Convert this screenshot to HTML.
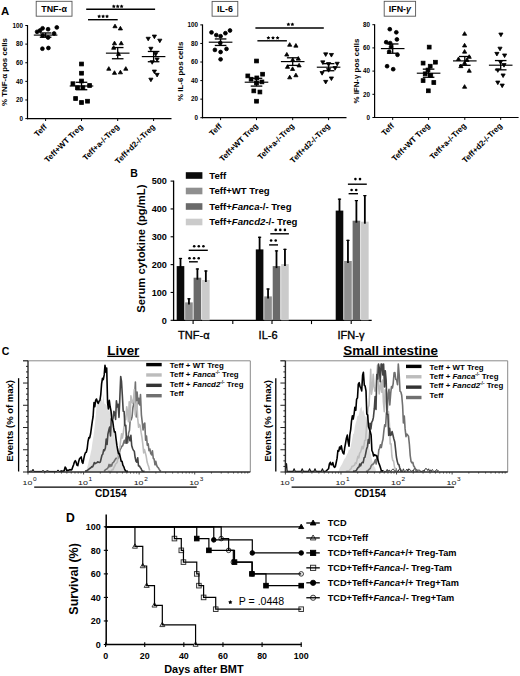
<!DOCTYPE html>
<html><head><meta charset="utf-8"><style>
html,body{margin:0;padding:0;background:#fff;width:520px;height:676px;overflow:hidden}
svg{display:block;font-family:"Liberation Sans", sans-serif}
</style></head><body>
<svg width="520" height="676" viewBox="0 0 520 676">
<rect width="520" height="676" fill="#fff"/>
<text x="0.90" y="14.70" font-size="11.4" font-weight="bold" text-anchor="start" fill="#000" >A</text>
<line x1="27.50" y1="25.00" x2="27.50" y2="119.20" stroke="#000" stroke-width="1.2" />
<line x1="26.90" y1="118.60" x2="171.50" y2="118.60" stroke="#000" stroke-width="1.2" />
<line x1="25.30" y1="118.60" x2="27.50" y2="118.60" stroke="#000" stroke-width="1.0" />
<text x="22.90" y="120.80" font-size="6.3" font-weight="bold" text-anchor="end" fill="#000" >0</text>
<line x1="25.30" y1="99.98" x2="27.50" y2="99.98" stroke="#000" stroke-width="1.0" />
<text x="22.90" y="102.18" font-size="6.3" font-weight="bold" text-anchor="end" fill="#000" >20</text>
<line x1="25.30" y1="81.36" x2="27.50" y2="81.36" stroke="#000" stroke-width="1.0" />
<text x="22.90" y="83.56" font-size="6.3" font-weight="bold" text-anchor="end" fill="#000" >40</text>
<line x1="25.30" y1="62.74" x2="27.50" y2="62.74" stroke="#000" stroke-width="1.0" />
<text x="22.90" y="64.94" font-size="6.3" font-weight="bold" text-anchor="end" fill="#000" >60</text>
<line x1="25.30" y1="44.12" x2="27.50" y2="44.12" stroke="#000" stroke-width="1.0" />
<text x="22.90" y="46.32" font-size="6.3" font-weight="bold" text-anchor="end" fill="#000" >80</text>
<line x1="25.30" y1="25.50" x2="27.50" y2="25.50" stroke="#000" stroke-width="1.0" />
<text x="22.90" y="27.70" font-size="6.3" font-weight="bold" text-anchor="end" fill="#000" >100</text>
<text x="6.90" y="72.05" font-size="7.9" font-weight="bold" text-anchor="middle" fill="#000" transform="rotate(-90 6.9 72.04999999999998)" >% TNF-α pos cells</text>
<line x1="45.60" y1="118.60" x2="45.60" y2="121.00" stroke="#000" stroke-width="1.0" />
<text x="47.50" y="127.40" font-size="8.0" font-weight="bold" text-anchor="end" fill="#000" transform="rotate(-45 47.5 127.39999999999999)" >Teff</text>
<line x1="81.50" y1="118.60" x2="81.50" y2="121.00" stroke="#000" stroke-width="1.0" />
<text x="83.40" y="127.40" font-size="8.0" font-weight="bold" text-anchor="end" fill="#000" transform="rotate(-45 83.4 127.39999999999999)" >Teff+WT Treg</text>
<line x1="117.70" y1="118.60" x2="117.70" y2="121.00" stroke="#000" stroke-width="1.0" />
<text x="119.60" y="127.40" font-size="8.0" font-weight="bold" text-anchor="end" fill="#000" transform="rotate(-45 119.60000000000001 127.39999999999999)" >Teff+a-/-Treg</text>
<line x1="153.60" y1="118.60" x2="153.60" y2="121.00" stroke="#000" stroke-width="1.0" />
<text x="155.50" y="127.40" font-size="8.0" font-weight="bold" text-anchor="end" fill="#000" transform="rotate(-45 155.5 127.39999999999999)" >Teff+d2-/-Treg</text>
<rect x="36.2" y="1.3" width="35.8" height="14.9" fill="#fff" stroke="#555" stroke-width="0.9"/>
<text x="54.10" y="12.20" font-size="8.9" font-weight="bold" text-anchor="middle" fill="#000" >TNF-α</text>
<circle cx="42.60" cy="28.30" r="1.90" fill="#000" stroke="#000" stroke-width="0.8"/>
<circle cx="48.10" cy="29.20" r="1.90" fill="#000" stroke="#000" stroke-width="0.8"/>
<circle cx="56.80" cy="27.40" r="1.90" fill="#000" stroke="#000" stroke-width="0.8"/>
<circle cx="37.10" cy="31.80" r="1.90" fill="#000" stroke="#000" stroke-width="0.8"/>
<circle cx="40.00" cy="30.50" r="1.90" fill="#000" stroke="#000" stroke-width="0.8"/>
<circle cx="54.10" cy="33.50" r="1.90" fill="#000" stroke="#000" stroke-width="0.8"/>
<circle cx="42.70" cy="35.50" r="1.90" fill="#000" stroke="#000" stroke-width="0.8"/>
<circle cx="48.10" cy="37.50" r="1.90" fill="#000" stroke="#000" stroke-width="0.8"/>
<circle cx="42.40" cy="48.70" r="1.90" fill="#000" stroke="#000" stroke-width="0.8"/>
<circle cx="48.40" cy="48.00" r="1.90" fill="#000" stroke="#000" stroke-width="0.8"/>
<line x1="33.80" y1="35.09" x2="57.40" y2="35.09" stroke="#000" stroke-width="1.15" />
<line x1="39.80" y1="32.95" x2="51.40" y2="32.95" stroke="#000" stroke-width="1.3" />
<line x1="39.80" y1="37.23" x2="51.40" y2="37.23" stroke="#000" stroke-width="1.3" />
<line x1="45.60" y1="32.95" x2="45.60" y2="37.23" stroke="#000" stroke-width="1.3" />
<rect x="79.60" y="62.10" width="3.80" height="3.80" fill="#000" stroke="#000" stroke-width="0.8"/>
<rect x="79.60" y="71.30" width="3.80" height="3.80" fill="#000" stroke="#000" stroke-width="0.8"/>
<rect x="71.00" y="81.80" width="3.80" height="3.80" fill="#000" stroke="#000" stroke-width="0.8"/>
<rect x="79.60" y="79.10" width="3.80" height="3.80" fill="#000" stroke="#000" stroke-width="0.8"/>
<rect x="87.70" y="83.60" width="3.80" height="3.80" fill="#000" stroke="#000" stroke-width="0.8"/>
<rect x="75.60" y="85.80" width="3.80" height="3.80" fill="#000" stroke="#000" stroke-width="0.8"/>
<rect x="81.00" y="85.80" width="3.80" height="3.80" fill="#000" stroke="#000" stroke-width="0.8"/>
<rect x="73.70" y="96.60" width="3.80" height="3.80" fill="#000" stroke="#000" stroke-width="0.8"/>
<rect x="79.60" y="100.60" width="3.80" height="3.80" fill="#000" stroke="#000" stroke-width="0.8"/>
<rect x="85.60" y="99.30" width="3.80" height="3.80" fill="#000" stroke="#000" stroke-width="0.8"/>
<line x1="69.70" y1="86.01" x2="93.30" y2="86.01" stroke="#000" stroke-width="1.15" />
<line x1="75.70" y1="82.29" x2="87.30" y2="82.29" stroke="#000" stroke-width="1.3" />
<line x1="75.70" y1="89.74" x2="87.30" y2="89.74" stroke="#000" stroke-width="1.3" />
<line x1="81.50" y1="82.29" x2="81.50" y2="89.74" stroke="#000" stroke-width="1.3" />
<path d="M115.00 24.13L117.09 27.74L112.91 27.74Z" fill="#000" stroke="#000" stroke-width="0.8"/>
<path d="M120.40 26.33L122.49 29.94L118.31 29.94Z" fill="#000" stroke="#000" stroke-width="0.8"/>
<path d="M114.50 41.13L116.59 44.74L112.41 44.74Z" fill="#000" stroke="#000" stroke-width="0.8"/>
<path d="M121.20 41.13L123.29 44.74L119.11 44.74Z" fill="#000" stroke="#000" stroke-width="0.8"/>
<path d="M113.70 45.63L115.79 49.24L111.61 49.24Z" fill="#000" stroke="#000" stroke-width="0.8"/>
<path d="M118.50 51.83L120.59 55.44L116.41 55.44Z" fill="#000" stroke="#000" stroke-width="0.8"/>
<path d="M108.80 66.63L110.89 70.24L106.71 70.24Z" fill="#000" stroke="#000" stroke-width="0.8"/>
<path d="M114.50 70.73L116.59 74.34L112.41 74.34Z" fill="#000" stroke="#000" stroke-width="0.8"/>
<path d="M120.40 70.23L122.49 73.84L118.31 73.84Z" fill="#000" stroke="#000" stroke-width="0.8"/>
<path d="M125.80 66.63L127.89 70.24L123.71 70.24Z" fill="#000" stroke="#000" stroke-width="0.8"/>
<line x1="105.90" y1="53.15" x2="129.50" y2="53.15" stroke="#000" stroke-width="1.15" />
<line x1="111.90" y1="47.56" x2="123.50" y2="47.56" stroke="#000" stroke-width="1.3" />
<line x1="111.90" y1="58.74" x2="123.50" y2="58.74" stroke="#000" stroke-width="1.3" />
<line x1="117.70" y1="47.56" x2="117.70" y2="58.74" stroke="#000" stroke-width="1.3" />
<path d="M148.20 40.87L150.29 37.26L146.11 37.26Z" fill="#000" stroke="#000" stroke-width="0.8"/>
<path d="M154.40 38.67L156.49 35.06L152.31 35.06Z" fill="#000" stroke="#000" stroke-width="0.8"/>
<path d="M159.80 42.77L161.89 39.16L157.71 39.16Z" fill="#000" stroke="#000" stroke-width="0.8"/>
<path d="M150.90 50.87L152.99 47.26L148.81 47.26Z" fill="#000" stroke="#000" stroke-width="0.8"/>
<path d="M155.70 56.17L157.79 52.56L153.61 52.56Z" fill="#000" stroke="#000" stroke-width="0.8"/>
<path d="M152.20 64.27L154.29 60.66L150.11 60.66Z" fill="#000" stroke="#000" stroke-width="0.8"/>
<path d="M157.10 61.57L159.19 57.96L155.01 57.96Z" fill="#000" stroke="#000" stroke-width="0.8"/>
<path d="M154.40 73.67L156.49 70.06L152.31 70.06Z" fill="#000" stroke="#000" stroke-width="0.8"/>
<path d="M157.10 76.97L159.19 73.36L155.01 73.36Z" fill="#000" stroke="#000" stroke-width="0.8"/>
<path d="M150.90 81.77L152.99 78.16L148.81 78.16Z" fill="#000" stroke="#000" stroke-width="0.8"/>
<line x1="141.80" y1="56.60" x2="165.40" y2="56.60" stroke="#000" stroke-width="1.15" />
<line x1="147.80" y1="51.47" x2="159.40" y2="51.47" stroke="#000" stroke-width="1.3" />
<line x1="147.80" y1="61.72" x2="159.40" y2="61.72" stroke="#000" stroke-width="1.3" />
<line x1="153.60" y1="51.47" x2="153.60" y2="61.72" stroke="#000" stroke-width="1.3" />
<line x1="88.00" y1="19.70" x2="117.70" y2="19.70" stroke="#000" stroke-width="1.4" />
<path d="M99.15 14.40 L99.80 15.51 L101.05 15.78 L100.20 16.74 L100.33 18.02 L99.15 17.50 L97.97 18.02 L98.10 16.74 L97.25 15.78 L98.50 15.51Z" fill="#000"/>
<path d="M103.10 14.40 L103.75 15.51 L105.00 15.78 L104.15 16.74 L104.28 18.02 L103.10 17.50 L101.92 18.02 L102.05 16.74 L101.20 15.78 L102.45 15.51Z" fill="#000"/>
<path d="M107.05 14.40 L107.70 15.51 L108.95 15.78 L108.10 16.74 L108.23 18.02 L107.05 17.50 L105.87 18.02 L106.00 16.74 L105.15 15.78 L106.40 15.51Z" fill="#000"/>
<line x1="86.20" y1="9.20" x2="155.10" y2="9.20" stroke="#000" stroke-width="1.4" />
<path d="M113.80 4.40 L114.45 5.51 L115.70 5.78 L114.85 6.74 L114.98 8.02 L113.80 7.50 L112.62 8.02 L112.75 6.74 L111.90 5.78 L113.15 5.51Z" fill="#000"/>
<path d="M117.70 4.40 L118.35 5.51 L119.60 5.78 L118.75 6.74 L118.88 8.02 L117.70 7.50 L116.52 8.02 L116.65 6.74 L115.80 5.78 L117.05 5.51Z" fill="#000"/>
<path d="M121.60 4.40 L122.25 5.51 L123.50 5.78 L122.65 6.74 L122.78 8.02 L121.60 7.50 L120.42 8.02 L120.55 6.74 L119.70 5.78 L120.95 5.51Z" fill="#000"/>
<line x1="202.50" y1="24.40" x2="202.50" y2="118.30" stroke="#000" stroke-width="1.2" />
<line x1="201.90" y1="117.70" x2="346.50" y2="117.70" stroke="#000" stroke-width="1.2" />
<line x1="200.30" y1="117.70" x2="202.50" y2="117.70" stroke="#000" stroke-width="1.0" />
<text x="197.90" y="119.90" font-size="6.3" font-weight="bold" text-anchor="end" fill="#000" >0</text>
<line x1="200.30" y1="99.14" x2="202.50" y2="99.14" stroke="#000" stroke-width="1.0" />
<text x="197.90" y="101.34" font-size="6.3" font-weight="bold" text-anchor="end" fill="#000" >20</text>
<line x1="200.30" y1="80.58" x2="202.50" y2="80.58" stroke="#000" stroke-width="1.0" />
<text x="197.90" y="82.78" font-size="6.3" font-weight="bold" text-anchor="end" fill="#000" >40</text>
<line x1="200.30" y1="62.02" x2="202.50" y2="62.02" stroke="#000" stroke-width="1.0" />
<text x="197.90" y="64.22" font-size="6.3" font-weight="bold" text-anchor="end" fill="#000" >60</text>
<line x1="200.30" y1="43.46" x2="202.50" y2="43.46" stroke="#000" stroke-width="1.0" />
<text x="197.90" y="45.66" font-size="6.3" font-weight="bold" text-anchor="end" fill="#000" >80</text>
<line x1="200.30" y1="24.90" x2="202.50" y2="24.90" stroke="#000" stroke-width="1.0" />
<text x="197.90" y="27.10" font-size="6.3" font-weight="bold" text-anchor="end" fill="#000" >100</text>
<text x="182.60" y="71.30" font-size="7.9" font-weight="bold" text-anchor="middle" fill="#000" transform="rotate(-90 182.6 71.3)" >% IL-6 pos cells</text>
<line x1="220.60" y1="117.70" x2="220.60" y2="120.10" stroke="#000" stroke-width="1.0" />
<text x="222.50" y="126.50" font-size="8.0" font-weight="bold" text-anchor="end" fill="#000" transform="rotate(-45 222.5 126.5)" >Teff</text>
<line x1="256.50" y1="117.70" x2="256.50" y2="120.10" stroke="#000" stroke-width="1.0" />
<text x="258.40" y="126.50" font-size="8.0" font-weight="bold" text-anchor="end" fill="#000" transform="rotate(-45 258.4 126.5)" >Teff+WT Treg</text>
<line x1="292.70" y1="117.70" x2="292.70" y2="120.10" stroke="#000" stroke-width="1.0" />
<text x="294.60" y="126.50" font-size="8.0" font-weight="bold" text-anchor="end" fill="#000" transform="rotate(-45 294.59999999999997 126.5)" >Teff+a-/-Treg</text>
<line x1="328.60" y1="117.70" x2="328.60" y2="120.10" stroke="#000" stroke-width="1.0" />
<text x="330.50" y="126.50" font-size="8.0" font-weight="bold" text-anchor="end" fill="#000" transform="rotate(-45 330.5 126.5)" >Teff+d2-/-Treg</text>
<rect x="212.1" y="1.4" width="25.7" height="14.8" fill="#fff" stroke="#555" stroke-width="0.9"/>
<text x="224.95" y="12.20" font-size="8.9" font-weight="bold" text-anchor="middle" fill="#000" >IL-6</text>
<circle cx="211.50" cy="32.40" r="1.90" fill="#000" stroke="#000" stroke-width="0.8"/>
<circle cx="216.30" cy="35.10" r="1.90" fill="#000" stroke="#000" stroke-width="0.8"/>
<circle cx="220.60" cy="36.20" r="1.90" fill="#000" stroke="#000" stroke-width="0.8"/>
<circle cx="225.40" cy="33.20" r="1.90" fill="#000" stroke="#000" stroke-width="0.8"/>
<circle cx="230.00" cy="30.50" r="1.90" fill="#000" stroke="#000" stroke-width="0.8"/>
<circle cx="214.90" cy="49.90" r="1.90" fill="#000" stroke="#000" stroke-width="0.8"/>
<circle cx="220.60" cy="52.00" r="1.90" fill="#000" stroke="#000" stroke-width="0.8"/>
<circle cx="226.50" cy="48.90" r="1.90" fill="#000" stroke="#000" stroke-width="0.8"/>
<circle cx="220.60" cy="59.30" r="1.90" fill="#000" stroke="#000" stroke-width="0.8"/>
<circle cx="220.30" cy="42.90" r="1.90" fill="#000" stroke="#000" stroke-width="0.8"/>
<line x1="208.80" y1="42.20" x2="232.40" y2="42.20" stroke="#000" stroke-width="1.15" />
<line x1="214.80" y1="38.95" x2="226.40" y2="38.95" stroke="#000" stroke-width="1.3" />
<line x1="214.80" y1="45.45" x2="226.40" y2="45.45" stroke="#000" stroke-width="1.3" />
<line x1="220.60" y1="38.95" x2="220.60" y2="45.45" stroke="#000" stroke-width="1.3" />
<rect x="254.60" y="59.10" width="3.80" height="3.80" fill="#000" stroke="#000" stroke-width="0.8"/>
<rect x="245.90" y="74.00" width="3.80" height="3.80" fill="#000" stroke="#000" stroke-width="0.8"/>
<rect x="260.70" y="72.30" width="3.80" height="3.80" fill="#000" stroke="#000" stroke-width="0.8"/>
<rect x="249.20" y="77.30" width="3.80" height="3.80" fill="#000" stroke="#000" stroke-width="0.8"/>
<rect x="254.90" y="76.00" width="3.80" height="3.80" fill="#000" stroke="#000" stroke-width="0.8"/>
<rect x="260.00" y="80.00" width="3.80" height="3.80" fill="#000" stroke="#000" stroke-width="0.8"/>
<rect x="251.90" y="89.00" width="3.80" height="3.80" fill="#000" stroke="#000" stroke-width="0.8"/>
<rect x="258.00" y="90.10" width="3.80" height="3.80" fill="#000" stroke="#000" stroke-width="0.8"/>
<rect x="254.60" y="99.30" width="3.80" height="3.80" fill="#000" stroke="#000" stroke-width="0.8"/>
<rect x="254.60" y="81.10" width="3.80" height="3.80" fill="#000" stroke="#000" stroke-width="0.8"/>
<line x1="244.70" y1="82.20" x2="268.30" y2="82.20" stroke="#000" stroke-width="1.15" />
<line x1="250.70" y1="78.30" x2="262.30" y2="78.30" stroke="#000" stroke-width="1.3" />
<line x1="250.70" y1="86.10" x2="262.30" y2="86.10" stroke="#000" stroke-width="1.3" />
<line x1="256.50" y1="78.30" x2="256.50" y2="86.10" stroke="#000" stroke-width="1.3" />
<path d="M289.70 42.63L291.79 46.24L287.61 46.24Z" fill="#000" stroke="#000" stroke-width="0.8"/>
<path d="M295.90 43.53L297.99 47.14L293.81 47.14Z" fill="#000" stroke="#000" stroke-width="0.8"/>
<path d="M286.80 52.43L288.89 56.04L284.71 56.04Z" fill="#000" stroke="#000" stroke-width="0.8"/>
<path d="M298.30 56.53L300.39 60.14L296.21 60.14Z" fill="#000" stroke="#000" stroke-width="0.8"/>
<path d="M287.50 64.73L289.59 68.34L285.41 68.34Z" fill="#000" stroke="#000" stroke-width="0.8"/>
<path d="M299.10 63.33L301.19 66.94L297.01 66.94Z" fill="#000" stroke="#000" stroke-width="0.8"/>
<path d="M292.60 66.83L294.69 70.44L290.51 70.44Z" fill="#000" stroke="#000" stroke-width="0.8"/>
<path d="M289.70 75.23L291.79 78.84L287.61 78.84Z" fill="#000" stroke="#000" stroke-width="0.8"/>
<path d="M295.90 73.13L297.99 76.74L293.81 76.74Z" fill="#000" stroke="#000" stroke-width="0.8"/>
<path d="M292.70 57.83L294.79 61.44L290.61 61.44Z" fill="#000" stroke="#000" stroke-width="0.8"/>
<line x1="280.90" y1="61.60" x2="304.50" y2="61.60" stroke="#000" stroke-width="1.15" />
<line x1="286.90" y1="57.80" x2="298.50" y2="57.80" stroke="#000" stroke-width="1.3" />
<line x1="286.90" y1="65.40" x2="298.50" y2="65.40" stroke="#000" stroke-width="1.3" />
<line x1="292.70" y1="57.80" x2="292.70" y2="65.40" stroke="#000" stroke-width="1.3" />
<path d="M325.70 56.47L327.79 52.86L323.61 52.86Z" fill="#000" stroke="#000" stroke-width="0.8"/>
<path d="M331.40 57.07L333.49 53.46L329.31 53.46Z" fill="#000" stroke="#000" stroke-width="0.8"/>
<path d="M322.80 64.47L324.89 60.86L320.71 60.86Z" fill="#000" stroke="#000" stroke-width="0.8"/>
<path d="M337.20 65.87L339.29 62.26L335.11 62.26Z" fill="#000" stroke="#000" stroke-width="0.8"/>
<path d="M325.70 83.97L327.79 80.36L323.61 80.36Z" fill="#000" stroke="#000" stroke-width="0.8"/>
<path d="M331.40 80.57L333.49 76.96L329.31 76.96Z" fill="#000" stroke="#000" stroke-width="0.8"/>
<path d="M328.60 72.17L330.69 68.56L326.51 68.56Z" fill="#000" stroke="#000" stroke-width="0.8"/>
<path d="M322.10 75.17L324.19 71.56L320.01 71.56Z" fill="#000" stroke="#000" stroke-width="0.8"/>
<path d="M335.10 70.17L337.19 66.56L333.01 66.56Z" fill="#000" stroke="#000" stroke-width="0.8"/>
<path d="M328.60 66.17L330.69 62.56L326.51 62.56Z" fill="#000" stroke="#000" stroke-width="0.8"/>
<line x1="316.80" y1="67.20" x2="340.40" y2="67.20" stroke="#000" stroke-width="1.15" />
<line x1="322.80" y1="63.67" x2="334.40" y2="63.67" stroke="#000" stroke-width="1.3" />
<line x1="322.80" y1="70.73" x2="334.40" y2="70.73" stroke="#000" stroke-width="1.3" />
<line x1="328.60" y1="63.67" x2="328.60" y2="70.73" stroke="#000" stroke-width="1.3" />
<line x1="257.40" y1="40.80" x2="286.90" y2="40.80" stroke="#000" stroke-width="1.4" />
<path d="M268.40 35.90 L269.05 37.01 L270.30 37.28 L269.45 38.24 L269.58 39.52 L268.40 39.00 L267.22 39.52 L267.35 38.24 L266.50 37.28 L267.75 37.01Z" fill="#000"/>
<path d="M273.00 35.90 L273.65 37.01 L274.90 37.28 L274.05 38.24 L274.18 39.52 L273.00 39.00 L271.82 39.52 L271.95 38.24 L271.10 37.28 L272.35 37.01Z" fill="#000"/>
<path d="M277.60 35.90 L278.25 37.01 L279.50 37.28 L278.65 38.24 L278.78 39.52 L277.60 39.00 L276.42 39.52 L276.55 38.24 L275.70 37.28 L276.95 37.01Z" fill="#000"/>
<line x1="255.40" y1="28.00" x2="323.80" y2="28.00" stroke="#000" stroke-width="1.4" />
<path d="M288.40 22.40 L289.05 23.51 L290.30 23.78 L289.45 24.74 L289.58 26.02 L288.40 25.50 L287.22 26.02 L287.35 24.74 L286.50 23.78 L287.75 23.51Z" fill="#000"/>
<path d="M292.40 22.40 L293.05 23.51 L294.30 23.78 L293.45 24.74 L293.58 26.02 L292.40 25.50 L291.22 26.02 L291.35 24.74 L290.50 23.78 L291.75 23.51Z" fill="#000"/>
<line x1="374.60" y1="24.20" x2="374.60" y2="118.10" stroke="#000" stroke-width="1.2" />
<line x1="374.00" y1="117.50" x2="518.60" y2="117.50" stroke="#000" stroke-width="1.2" />
<line x1="372.40" y1="117.50" x2="374.60" y2="117.50" stroke="#000" stroke-width="1.0" />
<text x="370.00" y="119.70" font-size="6.3" font-weight="bold" text-anchor="end" fill="#000" >0</text>
<line x1="372.40" y1="94.30" x2="374.60" y2="94.30" stroke="#000" stroke-width="1.0" />
<text x="370.00" y="96.50" font-size="6.3" font-weight="bold" text-anchor="end" fill="#000" >20</text>
<line x1="372.40" y1="71.10" x2="374.60" y2="71.10" stroke="#000" stroke-width="1.0" />
<text x="370.00" y="73.30" font-size="6.3" font-weight="bold" text-anchor="end" fill="#000" >40</text>
<line x1="372.40" y1="47.90" x2="374.60" y2="47.90" stroke="#000" stroke-width="1.0" />
<text x="370.00" y="50.10" font-size="6.3" font-weight="bold" text-anchor="end" fill="#000" >60</text>
<line x1="372.40" y1="24.70" x2="374.60" y2="24.70" stroke="#000" stroke-width="1.0" />
<text x="370.00" y="26.90" font-size="6.3" font-weight="bold" text-anchor="end" fill="#000" >80</text>
<text x="358.80" y="71.10" font-size="7.9" font-weight="bold" text-anchor="middle" fill="#000" transform="rotate(-90 358.8 71.1)" >% IFN-γ pos cells</text>
<line x1="392.70" y1="117.50" x2="392.70" y2="119.90" stroke="#000" stroke-width="1.0" />
<text x="394.60" y="126.30" font-size="8.0" font-weight="bold" text-anchor="end" fill="#000" transform="rotate(-45 394.59999999999997 126.3)" >Teff</text>
<line x1="428.60" y1="117.50" x2="428.60" y2="119.90" stroke="#000" stroke-width="1.0" />
<text x="430.50" y="126.30" font-size="8.0" font-weight="bold" text-anchor="end" fill="#000" transform="rotate(-45 430.5 126.3)" >Teff+WT Treg</text>
<line x1="464.80" y1="117.50" x2="464.80" y2="119.90" stroke="#000" stroke-width="1.0" />
<text x="466.70" y="126.30" font-size="8.0" font-weight="bold" text-anchor="end" fill="#000" transform="rotate(-45 466.7 126.3)" >Teff+a-/-Treg</text>
<line x1="500.70" y1="117.50" x2="500.70" y2="119.90" stroke="#000" stroke-width="1.0" />
<text x="502.60" y="126.30" font-size="8.0" font-weight="bold" text-anchor="end" fill="#000" transform="rotate(-45 502.59999999999997 126.3)" >Teff+d2-/-Treg</text>
<rect x="384.2" y="1.3" width="31.4" height="14.9" fill="#fff" stroke="#555" stroke-width="0.9"/>
<text x="399.90" y="12.20" font-size="8.9" font-weight="bold" text-anchor="middle" fill="#000" >IFN-<tspan font-style="italic">γ</tspan></text>
<circle cx="389.80" cy="29.20" r="1.90" fill="#000" stroke="#000" stroke-width="0.8"/>
<circle cx="396.30" cy="32.30" r="1.90" fill="#000" stroke="#000" stroke-width="0.8"/>
<circle cx="396.90" cy="39.40" r="1.90" fill="#000" stroke="#000" stroke-width="0.8"/>
<circle cx="390.20" cy="43.10" r="1.90" fill="#000" stroke="#000" stroke-width="0.8"/>
<circle cx="386.20" cy="42.20" r="1.90" fill="#000" stroke="#000" stroke-width="0.8"/>
<circle cx="389.20" cy="51.70" r="1.90" fill="#000" stroke="#000" stroke-width="0.8"/>
<circle cx="397.50" cy="54.80" r="1.90" fill="#000" stroke="#000" stroke-width="0.8"/>
<circle cx="387.10" cy="66.20" r="1.90" fill="#000" stroke="#000" stroke-width="0.8"/>
<circle cx="393.20" cy="69.20" r="1.90" fill="#000" stroke="#000" stroke-width="0.8"/>
<circle cx="391.00" cy="47.00" r="1.90" fill="#000" stroke="#000" stroke-width="0.8"/>
<line x1="380.90" y1="48.60" x2="404.50" y2="48.60" stroke="#000" stroke-width="1.15" />
<line x1="386.90" y1="43.96" x2="398.50" y2="43.96" stroke="#000" stroke-width="1.3" />
<line x1="386.90" y1="53.24" x2="398.50" y2="53.24" stroke="#000" stroke-width="1.3" />
<line x1="392.70" y1="43.96" x2="392.70" y2="53.24" stroke="#000" stroke-width="1.3" />
<rect x="427.30" y="45.20" width="3.80" height="3.80" fill="#000" stroke="#000" stroke-width="0.8"/>
<rect x="421.20" y="61.20" width="3.80" height="3.80" fill="#000" stroke="#000" stroke-width="0.8"/>
<rect x="433.50" y="60.30" width="3.80" height="3.80" fill="#000" stroke="#000" stroke-width="0.8"/>
<rect x="428.30" y="64.30" width="3.80" height="3.80" fill="#000" stroke="#000" stroke-width="0.8"/>
<rect x="423.30" y="71.90" width="3.80" height="3.80" fill="#000" stroke="#000" stroke-width="0.8"/>
<rect x="428.90" y="73.50" width="3.80" height="3.80" fill="#000" stroke="#000" stroke-width="0.8"/>
<rect x="421.20" y="78.70" width="3.80" height="3.80" fill="#000" stroke="#000" stroke-width="0.8"/>
<rect x="431.90" y="80.60" width="3.80" height="3.80" fill="#000" stroke="#000" stroke-width="0.8"/>
<rect x="426.40" y="88.90" width="3.80" height="3.80" fill="#000" stroke="#000" stroke-width="0.8"/>
<rect x="426.10" y="68.10" width="3.80" height="3.80" fill="#000" stroke="#000" stroke-width="0.8"/>
<line x1="416.80" y1="73.20" x2="440.40" y2="73.20" stroke="#000" stroke-width="1.15" />
<line x1="422.80" y1="69.14" x2="434.40" y2="69.14" stroke="#000" stroke-width="1.3" />
<line x1="422.80" y1="77.26" x2="434.40" y2="77.26" stroke="#000" stroke-width="1.3" />
<line x1="428.60" y1="69.14" x2="428.60" y2="77.26" stroke="#000" stroke-width="1.3" />
<path d="M464.60 31.63L466.69 35.24L462.51 35.24Z" fill="#000" stroke="#000" stroke-width="0.8"/>
<path d="M464.60 43.33L466.69 46.94L462.51 46.94Z" fill="#000" stroke="#000" stroke-width="0.8"/>
<path d="M464.60 49.53L466.69 53.14L462.51 53.14Z" fill="#000" stroke="#000" stroke-width="0.8"/>
<path d="M458.50 56.93L460.59 60.54L456.41 60.54Z" fill="#000" stroke="#000" stroke-width="0.8"/>
<path d="M469.20 54.73L471.29 58.34L467.11 58.34Z" fill="#000" stroke="#000" stroke-width="0.8"/>
<path d="M464.60 60.93L466.69 64.54L462.51 64.54Z" fill="#000" stroke="#000" stroke-width="0.8"/>
<path d="M460.90 64.03L462.99 67.64L458.81 67.64Z" fill="#000" stroke="#000" stroke-width="0.8"/>
<path d="M469.20 68.63L471.29 72.24L467.11 72.24Z" fill="#000" stroke="#000" stroke-width="0.8"/>
<path d="M464.60 84.63L466.69 88.24L462.51 88.24Z" fill="#000" stroke="#000" stroke-width="0.8"/>
<path d="M467.00 57.83L469.09 61.44L464.91 61.44Z" fill="#000" stroke="#000" stroke-width="0.8"/>
<line x1="453.00" y1="60.90" x2="476.60" y2="60.90" stroke="#000" stroke-width="1.15" />
<line x1="459.00" y1="56.49" x2="470.60" y2="56.49" stroke="#000" stroke-width="1.3" />
<line x1="459.00" y1="65.31" x2="470.60" y2="65.31" stroke="#000" stroke-width="1.3" />
<line x1="464.80" y1="56.49" x2="464.80" y2="65.31" stroke="#000" stroke-width="1.3" />
<path d="M500.90 36.67L502.99 33.06L498.81 33.06Z" fill="#000" stroke="#000" stroke-width="0.8"/>
<path d="M500.00 50.77L502.09 47.16L497.91 47.16Z" fill="#000" stroke="#000" stroke-width="0.8"/>
<path d="M496.90 55.97L498.99 52.36L494.81 52.36Z" fill="#000" stroke="#000" stroke-width="0.8"/>
<path d="M504.60 57.57L506.69 53.96L502.51 53.96Z" fill="#000" stroke="#000" stroke-width="0.8"/>
<path d="M497.80 72.37L499.89 68.76L495.71 68.76Z" fill="#000" stroke="#000" stroke-width="0.8"/>
<path d="M503.10 77.57L505.19 73.96L501.01 73.96Z" fill="#000" stroke="#000" stroke-width="0.8"/>
<path d="M497.80 84.67L499.89 81.06L495.71 81.06Z" fill="#000" stroke="#000" stroke-width="0.8"/>
<path d="M502.20 87.67L504.29 84.06L500.11 84.06Z" fill="#000" stroke="#000" stroke-width="0.8"/>
<path d="M500.50 64.17L502.59 60.56L498.41 60.56Z" fill="#000" stroke="#000" stroke-width="0.8"/>
<path d="M504.00 67.17L506.09 63.56L501.91 63.56Z" fill="#000" stroke="#000" stroke-width="0.8"/>
<line x1="488.90" y1="65.20" x2="512.50" y2="65.20" stroke="#000" stroke-width="1.15" />
<line x1="494.90" y1="60.56" x2="506.50" y2="60.56" stroke="#000" stroke-width="1.3" />
<line x1="494.90" y1="69.84" x2="506.50" y2="69.84" stroke="#000" stroke-width="1.3" />
<line x1="500.70" y1="60.56" x2="500.70" y2="69.84" stroke="#000" stroke-width="1.3" />
<text x="130.20" y="176.90" font-size="10.5" font-weight="bold" text-anchor="start" fill="#000" >B</text>
<line x1="173.60" y1="180.60" x2="173.60" y2="320.90" stroke="#000" stroke-width="1.3" />
<line x1="173.00" y1="320.30" x2="371.70" y2="320.30" stroke="#000" stroke-width="1.3" />
<line x1="170.60" y1="320.30" x2="173.60" y2="320.30" stroke="#000" stroke-width="1.1" />
<text x="166.90" y="323.60" font-size="9.1" font-weight="bold" text-anchor="end" fill="#000" >0</text>
<line x1="170.60" y1="292.46" x2="173.60" y2="292.46" stroke="#000" stroke-width="1.1" />
<text x="166.90" y="295.76" font-size="9.1" font-weight="bold" text-anchor="end" fill="#000" >100</text>
<line x1="170.60" y1="264.62" x2="173.60" y2="264.62" stroke="#000" stroke-width="1.1" />
<text x="166.90" y="267.92" font-size="9.1" font-weight="bold" text-anchor="end" fill="#000" >200</text>
<line x1="170.60" y1="236.78" x2="173.60" y2="236.78" stroke="#000" stroke-width="1.1" />
<text x="166.90" y="240.08" font-size="9.1" font-weight="bold" text-anchor="end" fill="#000" >300</text>
<line x1="170.60" y1="208.94" x2="173.60" y2="208.94" stroke="#000" stroke-width="1.1" />
<text x="166.90" y="212.24" font-size="9.1" font-weight="bold" text-anchor="end" fill="#000" >400</text>
<line x1="170.60" y1="181.10" x2="173.60" y2="181.10" stroke="#000" stroke-width="1.1" />
<text x="166.90" y="184.40" font-size="9.1" font-weight="bold" text-anchor="end" fill="#000" >500</text>
<line x1="193.10" y1="320.30" x2="193.10" y2="324.10" stroke="#000" stroke-width="1.1" />
<line x1="232.80" y1="320.30" x2="232.80" y2="324.10" stroke="#000" stroke-width="1.1" />
<line x1="272.00" y1="320.30" x2="272.00" y2="324.10" stroke="#000" stroke-width="1.1" />
<line x1="311.50" y1="320.30" x2="311.50" y2="324.10" stroke="#000" stroke-width="1.1" />
<line x1="351.20" y1="320.30" x2="351.20" y2="324.10" stroke="#000" stroke-width="1.1" />
<text x="145.40" y="248.60" font-size="11.25" font-weight="bold" text-anchor="middle" fill="#000" transform="rotate(-90 145.4 248.6)" >Serum cytokine (pg/mL)</text>
<text x="193.80" y="339.30" font-size="11.0" font-weight="normal" text-anchor="middle" fill="#000" stroke="#000" stroke-width="0.35">TNF-α</text>
<text x="268.10" y="339.30" font-size="11.0" font-weight="normal" text-anchor="middle" fill="#000" stroke="#000" stroke-width="0.35">IL-6</text>
<text x="351.00" y="339.30" font-size="11.0" font-weight="normal" text-anchor="middle" fill="#000" stroke="#000" stroke-width="0.35">IFN-γ</text>
<rect x="176.70" y="266.10" width="7.60" height="54.20" fill="#0b0b0b" stroke="none" stroke-width="0"/>
<rect x="185.15" y="302.40" width="7.60" height="17.90" fill="#8f8f8f" stroke="none" stroke-width="0"/>
<rect x="193.60" y="277.70" width="7.60" height="42.60" fill="#6a6a6a" stroke="none" stroke-width="0"/>
<rect x="202.05" y="280.00" width="7.60" height="40.30" fill="#cbcbcb" stroke="none" stroke-width="0"/>
<line x1="180.50" y1="257.90" x2="180.50" y2="268.10" stroke="#000" stroke-width="1.8" />
<line x1="178.90" y1="258.50" x2="182.10" y2="258.50" stroke="#000" stroke-width="1.2" />
<line x1="188.95" y1="298.20" x2="188.95" y2="304.40" stroke="#000" stroke-width="1.8" />
<line x1="187.35" y1="298.80" x2="190.55" y2="298.80" stroke="#000" stroke-width="1.2" />
<line x1="197.40" y1="268.40" x2="197.40" y2="279.70" stroke="#000" stroke-width="1.8" />
<line x1="195.80" y1="269.00" x2="199.00" y2="269.00" stroke="#000" stroke-width="1.2" />
<line x1="205.85" y1="270.40" x2="205.85" y2="282.00" stroke="#000" stroke-width="1.8" />
<line x1="204.25" y1="271.00" x2="207.45" y2="271.00" stroke="#000" stroke-width="1.2" />
<rect x="255.80" y="249.40" width="7.60" height="70.90" fill="#0b0b0b" stroke="none" stroke-width="0"/>
<rect x="264.25" y="296.40" width="7.60" height="23.90" fill="#8f8f8f" stroke="none" stroke-width="0"/>
<rect x="272.70" y="266.10" width="7.60" height="54.20" fill="#6a6a6a" stroke="none" stroke-width="0"/>
<rect x="281.15" y="264.10" width="7.60" height="56.20" fill="#cbcbcb" stroke="none" stroke-width="0"/>
<line x1="259.60" y1="236.70" x2="259.60" y2="251.40" stroke="#000" stroke-width="1.8" />
<line x1="258.00" y1="237.30" x2="261.20" y2="237.30" stroke="#000" stroke-width="1.2" />
<line x1="268.05" y1="288.40" x2="268.05" y2="298.40" stroke="#000" stroke-width="1.8" />
<line x1="266.45" y1="289.00" x2="269.65" y2="289.00" stroke="#000" stroke-width="1.2" />
<line x1="276.50" y1="250.30" x2="276.50" y2="268.10" stroke="#000" stroke-width="1.8" />
<line x1="274.90" y1="250.90" x2="278.10" y2="250.90" stroke="#000" stroke-width="1.2" />
<line x1="284.95" y1="248.80" x2="284.95" y2="266.10" stroke="#000" stroke-width="1.8" />
<line x1="283.35" y1="249.40" x2="286.55" y2="249.40" stroke="#000" stroke-width="1.2" />
<rect x="335.70" y="210.60" width="7.60" height="109.70" fill="#0b0b0b" stroke="none" stroke-width="0"/>
<rect x="344.15" y="261.00" width="7.60" height="59.30" fill="#8f8f8f" stroke="none" stroke-width="0"/>
<rect x="352.60" y="220.70" width="7.60" height="99.60" fill="#6a6a6a" stroke="none" stroke-width="0"/>
<rect x="361.05" y="221.70" width="7.60" height="98.60" fill="#cbcbcb" stroke="none" stroke-width="0"/>
<line x1="339.50" y1="198.60" x2="339.50" y2="212.60" stroke="#000" stroke-width="1.8" />
<line x1="337.90" y1="199.20" x2="341.10" y2="199.20" stroke="#000" stroke-width="1.2" />
<line x1="347.95" y1="239.80" x2="347.95" y2="263.00" stroke="#000" stroke-width="1.8" />
<line x1="346.35" y1="240.40" x2="349.55" y2="240.40" stroke="#000" stroke-width="1.2" />
<line x1="356.40" y1="200.00" x2="356.40" y2="222.70" stroke="#000" stroke-width="1.8" />
<line x1="354.80" y1="200.60" x2="358.00" y2="200.60" stroke="#000" stroke-width="1.2" />
<line x1="364.85" y1="195.00" x2="364.85" y2="223.70" stroke="#000" stroke-width="1.8" />
<line x1="363.25" y1="195.60" x2="366.45" y2="195.60" stroke="#000" stroke-width="1.2" />
<line x1="188.75" y1="250.30" x2="207.80" y2="250.30" stroke="#000" stroke-width="1.4" />
<circle cx="194.20" cy="246.20" r="1.3" fill="#000"/>
<circle cx="198.80" cy="246.20" r="1.3" fill="#000"/>
<circle cx="203.40" cy="246.20" r="1.3" fill="#000"/>
<line x1="189.00" y1="261.80" x2="197.80" y2="261.80" stroke="#000" stroke-width="1.4" />
<circle cx="189.50" cy="258.20" r="1.3" fill="#000"/>
<circle cx="194.10" cy="258.20" r="1.3" fill="#000"/>
<circle cx="198.70" cy="258.20" r="1.3" fill="#000"/>
<line x1="270.30" y1="233.80" x2="288.90" y2="233.80" stroke="#000" stroke-width="1.4" />
<circle cx="275.70" cy="229.90" r="1.3" fill="#000"/>
<circle cx="280.30" cy="229.90" r="1.3" fill="#000"/>
<circle cx="284.90" cy="229.90" r="1.3" fill="#000"/>
<line x1="269.10" y1="244.90" x2="278.00" y2="244.90" stroke="#000" stroke-width="1.4" />
<circle cx="271.10" cy="240.50" r="1.3" fill="#000"/>
<circle cx="275.70" cy="240.50" r="1.3" fill="#000"/>
<line x1="347.90" y1="184.20" x2="366.80" y2="184.20" stroke="#000" stroke-width="1.4" />
<circle cx="355.40" cy="179.10" r="1.3" fill="#000"/>
<circle cx="360.00" cy="179.10" r="1.3" fill="#000"/>
<line x1="348.60" y1="193.70" x2="358.00" y2="193.70" stroke="#000" stroke-width="1.4" />
<circle cx="351.60" cy="190.00" r="1.3" fill="#000"/>
<circle cx="356.20" cy="190.00" r="1.3" fill="#000"/>
<rect x="185.80" y="172.20" width="16.60" height="6.60" fill="#0b0b0b" stroke="none" stroke-width="0"/>
<text x="209.30" y="178.70" font-size="9.6" font-weight="bold" text-anchor="start" fill="#000" >Teff</text>
<rect x="185.80" y="187.70" width="16.60" height="6.60" fill="#8f8f8f" stroke="none" stroke-width="0"/>
<text x="209.30" y="194.20" font-size="9.6" font-weight="bold" text-anchor="start" fill="#000" >Teff+WT Treg</text>
<rect x="185.80" y="203.20" width="16.60" height="6.60" fill="#6a6a6a" stroke="none" stroke-width="0"/>
<text x="209.30" y="209.70" font-size="9.6" font-weight="bold" text-anchor="start" fill="#000" >Teff+<tspan font-style="italic">Fanca</tspan>-/- Treg</text>
<rect x="185.80" y="218.70" width="16.60" height="6.60" fill="#cbcbcb" stroke="none" stroke-width="0"/>
<text x="209.30" y="225.20" font-size="9.6" font-weight="bold" text-anchor="start" fill="#000" >Teff+<tspan font-style="italic">Fancd2</tspan>-/- Treg</text>
<text x="1.80" y="355.00" font-size="10.5" font-weight="bold" text-anchor="start" fill="#000" >C</text>
<path d="M29.0 471.4 L30.0 471.4 L31.0 470.8 L32.0 471.4 L33.0 469.2 L34.0 471.4 L35.0 471.4 L36.0 471.4 L37.0 471.4 L38.0 471.4 L39.0 471.4 L40.0 471.4 L41.0 471.4 L42.0 471.4 L43.0 470.2 L44.0 471.4 L45.0 471.4 L46.0 471.4 L47.0 470.7 L48.0 470.9 L49.0 471.4 L50.0 471.4 L51.0 471.4 L52.0 471.4 L53.0 471.4 L54.0 471.4 L55.0 471.4 L56.0 471.4 L57.0 471.4 L58.0 469.9 L59.0 471.4 L60.0 471.4 L61.0 471.4 L62.0 470.9" fill="none" stroke="#111" stroke-width="1.0" stroke-linejoin="round"/>
<text x="123.30" y="354.70" font-size="13.4" font-weight="bold" text-anchor="middle" fill="#000" text-decoration="underline">Liver</text>
<line x1="23.00" y1="360.80" x2="250.30" y2="360.80" stroke="#8a8a8a" stroke-width="1.0" />
<line x1="250.30" y1="360.80" x2="250.30" y2="472.00" stroke="#8a8a8a" stroke-width="1.0" />
<path d="M86.0 471.4 L86.5 470.3 L87.3 467.1 L88.2 464.0 L89.0 459.9 L89.9 457.1 L90.7 453.1 L91.6 448.9 L92.4 442.7 L93.3 437.5 L94.1 431.7 L95.0 423.8 L95.8 415.1 L96.7 404.8 L97.5 401.2 L98.4 399.9 L99.2 401.7 L100.1 401.2 L100.9 401.5 L101.8 397.8 L102.6 403.1 L103.5 393.6 L104.3 403.3 L105.2 404.4 L106.0 403.9 L106.9 406.3 L107.7 406.8 L108.6 411.5 L109.4 406.2 L110.3 417.7 L111.1 418.3 L112.0 421.7 L112.8 428.4 L113.7 431.8 L114.5 437.2 L115.4 441.5 L116.2 443.8 L117.1 448.4 L117.9 449.6 L118.8 455.6 L119.6 458.5 L120.5 461.9 L121.3 463.5 L122.2 465.9 L123.0 467.2 L123.9 469.3 L125.0 471.4Z" fill="#dedede" stroke="none" stroke-width="0" stroke-linejoin="round"/>
<path d="M104.0 471.0 L104.8 470.5 L105.7 469.5 L106.5 469.1 L107.4 468.5 L108.2 467.4 L109.1 464.4 L109.9 466.8 L110.8 464.7 L111.6 466.0 L112.5 462.9 L113.3 462.6 L114.2 461.2 L115.0 459.9 L115.9 458.4 L116.7 458.3 L117.6 458.8 L118.4 457.5 L119.3 453.9 L120.1 449.7 L121.0 448.1 L121.8 446.2 L122.7 445.7 L123.5 443.0 L124.4 440.2 L125.2 443.2 L126.1 437.8 L126.9 443.3 L127.8 442.4 L128.6 432.9 L129.5 430.3 L130.3 418.0 L131.2 419.8 L132.0 417.1 L132.9 407.8 L133.7 404.3 L134.6 397.8 L135.4 382.0 L136.3 416.9 L137.1 392.0 L138.0 403.6 L138.8 398.2 L139.7 404.9 L140.5 394.5 L141.4 414.8 L142.2 421.9 L143.1 429.9 L143.9 424.2 L144.8 423.1 L145.6 440.2 L146.5 436.0 L147.3 445.1 L148.2 443.9 L149.0 450.7 L149.9 449.0 L150.7 453.4 L151.6 454.8 L152.4 450.7 L153.3 458.5 L154.1 459.0 L155.0 464.8 L155.8 461.4 L156.7 465.5 L157.5 467.0 L158.4 467.9 L159.2 469.4 L160.1 470.7 L160.9 471.4" fill="none" stroke="#707070" stroke-width="1.6" stroke-linejoin="round"/>
<path d="M108.0 471.4 L108.8 470.9 L109.7 471.4 L110.5 471.3 L111.4 471.0 L112.2 469.6 L113.1 469.7 L113.9 467.5 L114.8 465.9 L115.6 463.9 L116.5 463.4 L117.3 462.1 L118.2 453.1 L119.0 449.8 L119.9 447.7 L120.7 440.2 L121.6 433.8 L122.4 438.0 L123.3 432.8 L124.1 425.9 L125.0 416.2 L125.8 419.8 L126.7 406.7 L127.5 411.6 L128.4 421.8 L129.2 401.7 L130.1 421.0 L130.9 395.8 L131.8 401.1 L132.6 403.3 L133.5 399.0 L134.3 389.6 L135.2 415.0 L136.0 405.6 L136.9 401.8 L137.7 418.4 L138.6 427.3 L139.4 424.4 L140.3 426.1 L141.1 432.4 L142.0 437.6 L142.8 444.1 L143.7 452.9 L144.5 449.6 L145.4 453.0 L146.2 456.3 L147.1 462.0 L147.9 464.6 L148.8 467.1 L149.6 470.5" fill="none" stroke="#bcbcbc" stroke-width="1.6" stroke-linejoin="round"/>
<path d="M85.0 471.0 L85.8 470.9 L86.7 470.7 L87.5 470.3 L88.4 469.5 L89.2 468.8 L90.1 468.3 L90.9 467.7 L91.8 466.6 L92.6 467.0 L93.5 464.9 L94.3 462.6 L95.2 463.6 L96.0 463.1 L96.9 462.7 L97.7 461.8 L98.6 462.3 L99.4 462.5 L100.3 462.1 L101.1 458.8 L102.0 455.0 L102.8 454.2 L103.7 449.7 L104.5 450.6 L105.4 448.0 L106.2 439.1 L107.1 444.4 L107.9 434.1 L108.8 430.2 L109.6 427.1 L110.5 435.9 L111.3 418.8 L112.2 420.7 L113.0 418.7 L113.9 411.2 L114.7 413.6 L115.6 419.5 L116.4 400.7 L117.3 406.9 L118.1 404.3 L119.0 417.4 L119.8 398.9 L120.7 376.5 L121.5 381.4 L122.4 396.2 L123.2 411.3 L124.1 411.5 L124.9 425.6 L125.8 425.3 L126.6 442.9 L127.5 437.8 L128.3 436.0 L129.2 437.7 L130.0 440.8 L130.9 435.3 L131.7 445.5 L132.6 448.5 L133.4 450.3 L134.3 451.2 L135.1 457.3 L136.0 461.2 L136.8 462.1 L137.7 457.7 L138.5 466.0 L139.4 466.0 L140.2 467.4 L141.1 468.6 L141.9 470.5 L142.8 471.2 L143.6 471.2 L144.5 471.4" fill="none" stroke="#444" stroke-width="1.6" stroke-linejoin="round"/>
<path d="M60.0 471.2 L60.9 471.3 L61.7 471.1 L62.6 471.3 L63.4 471.1 L64.2 470.7 L65.1 467.1 L65.9 468.0 L66.8 470.7 L67.6 470.4 L68.5 470.4 L69.3 470.0 L70.2 469.6 L71.0 470.1 L71.9 469.6 L72.7 467.1 L73.6 464.7 L74.4 462.1 L75.3 460.7 L76.1 462.2 L77.0 465.3 L77.8 465.6 L78.7 461.4 L79.5 458.8 L80.4 457.9 L81.2 456.9 L82.1 462.0 L82.9 463.3 L83.8 458.6 L84.6 455.1 L85.5 452.6 L86.3 452.2 L87.2 448.5 L88.0 441.5 L88.9 437.5 L89.7 437.8 L90.6 433.8 L91.4 427.8 L92.3 421.4 L93.1 416.5 L94.0 402.5 L94.8 406.6 L95.7 400.1 L96.5 399.0 L97.4 401.8 L98.2 403.5 L99.1 401.2 L99.9 400.6 L100.8 394.3 L101.6 383.9 L102.5 378.2 L103.3 379.6 L104.2 374.9 L105.0 365.3 L105.9 372.2 L106.7 368.0 L107.6 402.8 L108.4 408.9 L109.3 400.4 L110.1 406.5 L111.0 410.9 L111.8 420.0 L112.7 420.8 L113.5 427.2 L114.4 432.0 L115.2 431.8 L116.1 439.3 L116.9 445.4 L117.8 450.6 L118.6 453.7 L119.5 453.8 L120.3 457.3 L121.2 461.3 L122.0 461.3 L122.9 465.2 L123.7 466.6 L124.6 469.1 L125.4 470.7 L126.3 471.2 L127.1 471.4 L128.0 471.4" fill="none" stroke="#000" stroke-width="1.6" stroke-linejoin="round"/>
<line x1="28.00" y1="360.80" x2="28.00" y2="472.50" stroke="#2a2a2a" stroke-width="1.4" />
<line x1="27.50" y1="472.00" x2="250.30" y2="472.00" stroke="#2a2a2a" stroke-width="1.3" />
<line x1="23.00" y1="472.00" x2="28.00" y2="472.00" stroke="#222" stroke-width="1.0" />
<line x1="26.00" y1="466.44" x2="28.00" y2="466.44" stroke="#222" stroke-width="1.0" />
<line x1="26.00" y1="460.88" x2="28.00" y2="460.88" stroke="#222" stroke-width="1.0" />
<line x1="26.00" y1="455.32" x2="28.00" y2="455.32" stroke="#222" stroke-width="1.0" />
<line x1="23.00" y1="449.76" x2="28.00" y2="449.76" stroke="#222" stroke-width="1.0" />
<line x1="26.00" y1="444.20" x2="28.00" y2="444.20" stroke="#222" stroke-width="1.0" />
<line x1="26.00" y1="438.64" x2="28.00" y2="438.64" stroke="#222" stroke-width="1.0" />
<line x1="26.00" y1="433.08" x2="28.00" y2="433.08" stroke="#222" stroke-width="1.0" />
<line x1="23.00" y1="427.52" x2="28.00" y2="427.52" stroke="#222" stroke-width="1.0" />
<line x1="26.00" y1="421.96" x2="28.00" y2="421.96" stroke="#222" stroke-width="1.0" />
<line x1="26.00" y1="416.40" x2="28.00" y2="416.40" stroke="#222" stroke-width="1.0" />
<line x1="26.00" y1="410.84" x2="28.00" y2="410.84" stroke="#222" stroke-width="1.0" />
<line x1="23.00" y1="405.28" x2="28.00" y2="405.28" stroke="#222" stroke-width="1.0" />
<line x1="26.00" y1="399.72" x2="28.00" y2="399.72" stroke="#222" stroke-width="1.0" />
<line x1="26.00" y1="394.16" x2="28.00" y2="394.16" stroke="#222" stroke-width="1.0" />
<line x1="26.00" y1="388.60" x2="28.00" y2="388.60" stroke="#222" stroke-width="1.0" />
<line x1="23.00" y1="383.04" x2="28.00" y2="383.04" stroke="#222" stroke-width="1.0" />
<line x1="26.00" y1="377.48" x2="28.00" y2="377.48" stroke="#222" stroke-width="1.0" />
<line x1="26.00" y1="371.92" x2="28.00" y2="371.92" stroke="#222" stroke-width="1.0" />
<line x1="26.00" y1="366.36" x2="28.00" y2="366.36" stroke="#222" stroke-width="1.0" />
<line x1="23.00" y1="360.80" x2="28.00" y2="360.80" stroke="#222" stroke-width="1.0" />
<line x1="28.00" y1="472.00" x2="28.00" y2="474.50" stroke="#333" stroke-width="0.9" />
<line x1="44.73" y1="472.00" x2="44.73" y2="473.50" stroke="#333" stroke-width="0.9" />
<line x1="54.52" y1="472.00" x2="54.52" y2="473.50" stroke="#333" stroke-width="0.9" />
<line x1="61.46" y1="472.00" x2="61.46" y2="473.50" stroke="#333" stroke-width="0.9" />
<line x1="66.85" y1="472.00" x2="66.85" y2="473.50" stroke="#333" stroke-width="0.9" />
<line x1="71.25" y1="472.00" x2="71.25" y2="473.50" stroke="#333" stroke-width="0.9" />
<line x1="74.97" y1="472.00" x2="74.97" y2="473.50" stroke="#333" stroke-width="0.9" />
<line x1="78.19" y1="472.00" x2="78.19" y2="473.50" stroke="#333" stroke-width="0.9" />
<line x1="81.03" y1="472.00" x2="81.03" y2="473.50" stroke="#333" stroke-width="0.9" />
<line x1="83.58" y1="472.00" x2="83.58" y2="474.50" stroke="#333" stroke-width="0.9" />
<line x1="100.30" y1="472.00" x2="100.30" y2="473.50" stroke="#333" stroke-width="0.9" />
<line x1="110.09" y1="472.00" x2="110.09" y2="473.50" stroke="#333" stroke-width="0.9" />
<line x1="117.03" y1="472.00" x2="117.03" y2="473.50" stroke="#333" stroke-width="0.9" />
<line x1="122.42" y1="472.00" x2="122.42" y2="473.50" stroke="#333" stroke-width="0.9" />
<line x1="126.82" y1="472.00" x2="126.82" y2="473.50" stroke="#333" stroke-width="0.9" />
<line x1="130.54" y1="472.00" x2="130.54" y2="473.50" stroke="#333" stroke-width="0.9" />
<line x1="133.76" y1="472.00" x2="133.76" y2="473.50" stroke="#333" stroke-width="0.9" />
<line x1="136.61" y1="472.00" x2="136.61" y2="473.50" stroke="#333" stroke-width="0.9" />
<line x1="139.15" y1="472.00" x2="139.15" y2="474.50" stroke="#333" stroke-width="0.9" />
<line x1="155.88" y1="472.00" x2="155.88" y2="473.50" stroke="#333" stroke-width="0.9" />
<line x1="165.67" y1="472.00" x2="165.67" y2="473.50" stroke="#333" stroke-width="0.9" />
<line x1="172.61" y1="472.00" x2="172.61" y2="473.50" stroke="#333" stroke-width="0.9" />
<line x1="178.00" y1="472.00" x2="178.00" y2="473.50" stroke="#333" stroke-width="0.9" />
<line x1="182.40" y1="472.00" x2="182.40" y2="473.50" stroke="#333" stroke-width="0.9" />
<line x1="186.12" y1="472.00" x2="186.12" y2="473.50" stroke="#333" stroke-width="0.9" />
<line x1="189.34" y1="472.00" x2="189.34" y2="473.50" stroke="#333" stroke-width="0.9" />
<line x1="192.18" y1="472.00" x2="192.18" y2="473.50" stroke="#333" stroke-width="0.9" />
<line x1="194.73" y1="472.00" x2="194.73" y2="474.50" stroke="#333" stroke-width="0.9" />
<line x1="211.45" y1="472.00" x2="211.45" y2="473.50" stroke="#333" stroke-width="0.9" />
<line x1="221.24" y1="472.00" x2="221.24" y2="473.50" stroke="#333" stroke-width="0.9" />
<line x1="228.18" y1="472.00" x2="228.18" y2="473.50" stroke="#333" stroke-width="0.9" />
<line x1="233.57" y1="472.00" x2="233.57" y2="473.50" stroke="#333" stroke-width="0.9" />
<line x1="237.97" y1="472.00" x2="237.97" y2="473.50" stroke="#333" stroke-width="0.9" />
<line x1="241.69" y1="472.00" x2="241.69" y2="473.50" stroke="#333" stroke-width="0.9" />
<line x1="244.91" y1="472.00" x2="244.91" y2="473.50" stroke="#333" stroke-width="0.9" />
<line x1="247.76" y1="472.00" x2="247.76" y2="473.50" stroke="#333" stroke-width="0.9" />
<text transform="translate(22.50,484.5) scale(0.88,0.58)" font-size="10" font-weight="normal" fill="#111">10</text>
<text transform="translate(33.00,481.0) scale(1.25,0.92)" font-size="5.2" font-weight="normal" fill="#111">0</text>
<text transform="translate(78.08,484.5) scale(0.88,0.58)" font-size="10" font-weight="normal" fill="#111">10</text>
<text transform="translate(88.58,481.0) scale(1.25,0.92)" font-size="5.2" font-weight="normal" fill="#111">1</text>
<text transform="translate(133.65,484.5) scale(0.88,0.58)" font-size="10" font-weight="normal" fill="#111">10</text>
<text transform="translate(144.15,481.0) scale(1.25,0.92)" font-size="5.2" font-weight="normal" fill="#111">2</text>
<text transform="translate(189.23,484.5) scale(0.88,0.58)" font-size="10" font-weight="normal" fill="#111">10</text>
<text transform="translate(199.73,481.0) scale(1.25,0.92)" font-size="5.2" font-weight="normal" fill="#111">3</text>
<line x1="34.20" y1="487.20" x2="196.73" y2="487.20" stroke="#000" stroke-width="1.2" />
<text x="110.80" y="496.70" font-size="10.1" font-weight="bold" text-anchor="middle" fill="#000" >CD154</text>
<line x1="18.60" y1="378.20" x2="18.60" y2="471.50" stroke="#000" stroke-width="1.3" />
<text x="12.80" y="420.90" font-size="9.5" font-weight="bold" text-anchor="middle" fill="#000" transform="rotate(-90 12.8 420.9)" >Events (% of max)</text>
<line x1="146.20" y1="364.60" x2="161.70" y2="364.60" stroke="#000" stroke-width="3.4" />
<text x="169.80" y="367.80" font-size="7.9" font-weight="bold" text-anchor="start" fill="#000" >Teff + WT Treg</text>
<line x1="146.20" y1="374.97" x2="161.70" y2="374.97" stroke="#bcbcbc" stroke-width="3.4" />
<text x="169.80" y="377.23" font-size="7.9" font-weight="bold" text-anchor="start" fill="#000" >Teff + <tspan font-style="italic">Fanca</tspan><tspan font-size="4.6" dy="-3">-/-</tspan><tspan dy="3"> Treg</tspan></text>
<line x1="146.20" y1="385.34" x2="161.70" y2="385.34" stroke="#333" stroke-width="3.4" />
<text x="169.80" y="386.66" font-size="7.9" font-weight="bold" text-anchor="start" fill="#000" >Teff + <tspan font-style="italic">Fancd2</tspan><tspan font-size="4.6" dy="-3">-/-</tspan><tspan dy="3"> Treg</tspan></text>
<line x1="146.20" y1="395.71" x2="161.70" y2="395.71" stroke="#707070" stroke-width="3.4" />
<text x="169.80" y="396.09" font-size="7.9" font-weight="bold" text-anchor="start" fill="#000" >Teff</text>
<path d="M285.6 471.4 L285.9 463.5 L286.6 463.8 L287.2 471.4 L292.9 471.4 L294.1 468.8 L295.3 471.4 L301.0 471.4 L302.2 468.8 L303.4 471.4 L308.4 471.4 L309.6 468.8 L310.8 471.4 L313.8 471.4 L315.0 468.8 L316.2 471.4 L321.2 471.4 L322.4 468.8 L323.6 471.4 L326.0 471.4" fill="none" stroke="#111" stroke-width="1.1" stroke-linejoin="round"/>
<path d="M380.0 471.4 L380.9 471.4 L381.8 471.4 L382.7 471.4 L383.6 470.5 L384.5 471.4 L385.4 471.4 L386.3 471.4 L387.2 469.4 L388.1 471.4 L389.0 470.1 L389.9 470.6 L390.8 471.4 L391.7 470.3 L392.6 469.2 L393.5 469.1 L394.4 470.8 L395.3 471.4 L396.2 468.6 L397.1 471.4 L398.0 471.4 L398.9 469.8 L399.8 468.6 L400.7 471.4 L401.6 471.4 L402.5 471.4 L403.4 468.8 L404.3 471.4 L405.2 471.4 L406.1 470.3 L407.0 469.1 L407.9 471.4 L408.8 468.7 L409.7 469.9 L410.6 470.2 L411.5 471.4 L412.4 470.5 L413.3 471.4 L414.2 468.6 L415.1 468.5 L416.0 468.7 L416.9 471.4 L417.8 469.7 L418.7 470.3 L419.6 470.0 L420.5 471.4 L421.4 471.4 L422.3 471.4 L423.2 470.2 L424.1 471.4 L425.0 469.1 L425.9 468.5 L426.8 468.9 L427.7 470.5 L428.6 468.8 L429.5 471.4 L430.4 469.8 L431.3 471.4 L432.2 469.5 L433.1 470.4 L434.0 471.4 L434.9 471.4 L435.8 470.7 L436.7 469.4 L437.6 471.4 L438.5 470.4" fill="none" stroke="#333" stroke-width="1.0" stroke-linejoin="round"/>
<text x="390.60" y="354.70" font-size="13.4" font-weight="bold" text-anchor="middle" fill="#000" text-decoration="underline">Small intestine</text>
<line x1="280.40" y1="360.80" x2="507.70" y2="360.80" stroke="#8a8a8a" stroke-width="1.0" />
<line x1="507.70" y1="360.80" x2="507.70" y2="472.00" stroke="#8a8a8a" stroke-width="1.0" />
<path d="M338.0 471.4 L338.6 470.9 L339.5 468.6 L340.3 467.1 L341.2 465.5 L342.0 464.2 L342.9 462.2 L343.7 460.4 L344.6 458.8 L345.4 458.0 L346.3 456.1 L347.1 454.1 L348.0 452.8 L348.8 449.6 L349.7 450.1 L350.5 447.7 L351.4 443.1 L352.2 439.2 L353.1 433.8 L353.9 433.7 L354.8 427.0 L355.6 423.6 L356.5 420.4 L357.3 415.9 L358.2 416.0 L359.0 413.9 L359.9 408.9 L360.7 408.1 L361.6 406.5 L362.4 412.1 L363.3 409.8 L364.1 412.4 L365.0 416.3 L365.8 416.4 L366.7 422.1 L367.5 423.9 L368.4 435.8 L369.2 448.0 L370.1 452.1 L370.9 454.2 L371.8 459.1 L372.6 461.9 L373.5 464.4 L374.3 466.6 L375.2 467.9 L376.0 470.9 L376.5 471.4Z" fill="#dedede" stroke="none" stroke-width="0" stroke-linejoin="round"/>
<path d="M366.0 471.4 L366.9 471.2 L367.7 470.9 L368.6 469.8 L369.4 469.1 L370.3 468.3 L371.1 466.0 L372.0 464.8 L372.8 464.2 L373.7 463.8 L374.5 461.9 L375.4 459.7 L376.2 464.0 L377.1 455.9 L377.9 459.0 L378.8 449.8 L379.6 448.3 L380.5 444.8 L381.3 447.5 L382.2 442.5 L383.0 439.3 L383.9 430.7 L384.7 424.9 L385.6 426.4 L386.4 413.1 L387.3 409.7 L388.1 393.6 L389.0 389.4 L389.8 405.0 L390.7 393.4 L391.5 386.5 L392.4 388.0 L393.2 383.3 L394.1 372.8 L394.9 372.6 L395.8 379.5 L396.6 379.6 L397.5 384.6 L398.3 364.0 L399.2 375.1 L400.0 391.2 L400.9 392.0 L401.7 395.3 L402.6 405.5 L403.4 423.0 L404.3 416.0 L405.1 428.9 L406.0 436.6 L406.8 434.1 L407.7 435.1 L408.5 436.2 L409.4 444.5 L410.2 455.5 L411.1 461.6 L411.9 462.8 L412.8 462.3 L413.6 465.7 L414.5 467.0 L415.3 469.1 L416.2 471.0 L417.0 470.6 L417.9 471.4" fill="none" stroke="#707070" stroke-width="1.6" stroke-linejoin="round"/>
<path d="M346.0 471.4 L346.9 470.9 L347.7 470.9 L348.6 470.8 L349.4 470.4 L350.3 469.3 L351.1 468.7 L352.0 466.3 L352.8 466.4 L353.7 465.6 L354.5 465.3 L355.4 462.8 L356.2 463.5 L357.1 459.7 L357.9 456.4 L358.8 457.9 L359.6 453.3 L360.5 452.2 L361.3 449.7 L362.2 446.3 L363.0 448.7 L363.9 445.9 L364.7 440.6 L365.6 440.3 L366.4 429.0 L367.3 418.3 L368.1 407.8 L369.0 405.3 L369.8 391.0 L370.7 369.2 L371.5 394.1 L372.4 388.0 L373.2 374.4 L374.1 386.4 L374.9 391.1 L375.8 390.3 L376.6 377.6 L377.5 365.3 L378.3 381.0 L379.2 393.9 L380.0 387.7 L380.9 381.3 L381.7 392.3 L382.6 380.1 L383.4 402.0 L384.3 411.8 L385.1 389.9 L386.0 396.8 L386.8 411.8 L387.7 411.2 L388.5 411.5 L389.4 423.9 L390.2 443.9 L391.1 443.9 L391.9 456.0 L392.8 460.5 L393.6 461.0 L394.5 467.0 L395.3 468.9 L396.2 470.4" fill="none" stroke="#bcbcbc" stroke-width="1.6" stroke-linejoin="round"/>
<path d="M353.0 471.0 L353.9 471.2 L354.7 471.0 L355.6 470.7 L356.4 470.4 L357.3 468.7 L358.1 467.5 L359.0 467.0 L359.8 464.0 L360.7 465.8 L361.5 463.2 L362.4 462.3 L363.2 462.6 L364.1 457.8 L364.9 457.4 L365.8 453.0 L366.6 448.9 L367.5 446.4 L368.3 439.5 L369.2 443.1 L370.0 423.3 L370.9 429.0 L371.7 422.3 L372.6 420.7 L373.4 417.4 L374.3 408.7 L375.1 396.6 L376.0 409.5 L376.8 374.6 L377.7 379.0 L378.5 364.0 L379.4 368.6 L380.2 381.6 L381.1 364.0 L381.9 364.0 L382.8 374.9 L383.6 364.0 L384.5 387.0 L385.3 370.9 L386.2 380.9 L387.0 414.3 L387.9 414.2 L388.7 435.4 L389.6 428.3 L390.4 435.4 L391.3 434.8 L392.1 431.5 L393.0 435.2 L393.8 438.7 L394.7 441.7 L395.5 448.6 L396.4 457.0 L397.2 461.1 L398.1 464.4 L398.9 464.6 L399.8 468.0 L400.6 469.8 L401.5 471.1" fill="none" stroke="#444" stroke-width="1.6" stroke-linejoin="round"/>
<path d="M326.0 471.3 L326.9 470.3 L327.7 469.5 L328.6 468.7 L329.4 463.8 L330.3 462.3 L331.1 464.8 L332.0 464.8 L332.8 462.6 L333.7 466.3 L334.5 467.4 L335.4 466.4 L336.2 462.5 L337.1 458.2 L337.9 450.5 L338.8 451.1 L339.6 447.0 L340.5 449.0 L341.3 445.7 L342.2 450.6 L343.0 453.0 L343.9 453.9 L344.7 447.8 L345.6 443.0 L346.4 438.2 L347.3 435.1 L348.1 441.7 L349.0 446.2 L349.8 435.2 L350.7 429.6 L351.5 421.2 L352.4 415.7 L353.2 419.0 L354.1 414.1 L354.9 407.2 L355.8 410.2 L356.6 399.2 L357.5 397.9 L358.3 384.1 L359.2 382.7 L360.0 386.6 L360.9 388.1 L361.7 390.9 L362.6 375.2 L363.4 372.2 L364.3 385.1 L365.1 386.0 L366.0 390.8 L366.8 414.0 L367.7 415.1 L368.5 426.7 L369.4 429.2 L370.2 431.5 L371.1 435.0 L371.9 450.5 L372.8 452.5 L373.6 456.0 L374.5 454.6 L375.3 455.4 L376.2 455.4 L377.0 456.4 L377.9 460.1 L378.7 462.8 L379.6 465.1 L380.4 467.6 L381.3 470.4 L382.1 470.9 L383.0 470.9" fill="none" stroke="#000" stroke-width="1.6" stroke-linejoin="round"/>
<line x1="285.40" y1="360.80" x2="285.40" y2="472.50" stroke="#2a2a2a" stroke-width="1.4" />
<line x1="284.90" y1="472.00" x2="507.70" y2="472.00" stroke="#2a2a2a" stroke-width="1.3" />
<line x1="280.40" y1="472.00" x2="285.40" y2="472.00" stroke="#222" stroke-width="1.0" />
<line x1="283.40" y1="466.44" x2="285.40" y2="466.44" stroke="#222" stroke-width="1.0" />
<line x1="283.40" y1="460.88" x2="285.40" y2="460.88" stroke="#222" stroke-width="1.0" />
<line x1="283.40" y1="455.32" x2="285.40" y2="455.32" stroke="#222" stroke-width="1.0" />
<line x1="280.40" y1="449.76" x2="285.40" y2="449.76" stroke="#222" stroke-width="1.0" />
<line x1="283.40" y1="444.20" x2="285.40" y2="444.20" stroke="#222" stroke-width="1.0" />
<line x1="283.40" y1="438.64" x2="285.40" y2="438.64" stroke="#222" stroke-width="1.0" />
<line x1="283.40" y1="433.08" x2="285.40" y2="433.08" stroke="#222" stroke-width="1.0" />
<line x1="280.40" y1="427.52" x2="285.40" y2="427.52" stroke="#222" stroke-width="1.0" />
<line x1="283.40" y1="421.96" x2="285.40" y2="421.96" stroke="#222" stroke-width="1.0" />
<line x1="283.40" y1="416.40" x2="285.40" y2="416.40" stroke="#222" stroke-width="1.0" />
<line x1="283.40" y1="410.84" x2="285.40" y2="410.84" stroke="#222" stroke-width="1.0" />
<line x1="280.40" y1="405.28" x2="285.40" y2="405.28" stroke="#222" stroke-width="1.0" />
<line x1="283.40" y1="399.72" x2="285.40" y2="399.72" stroke="#222" stroke-width="1.0" />
<line x1="283.40" y1="394.16" x2="285.40" y2="394.16" stroke="#222" stroke-width="1.0" />
<line x1="283.40" y1="388.60" x2="285.40" y2="388.60" stroke="#222" stroke-width="1.0" />
<line x1="280.40" y1="383.04" x2="285.40" y2="383.04" stroke="#222" stroke-width="1.0" />
<line x1="283.40" y1="377.48" x2="285.40" y2="377.48" stroke="#222" stroke-width="1.0" />
<line x1="283.40" y1="371.92" x2="285.40" y2="371.92" stroke="#222" stroke-width="1.0" />
<line x1="283.40" y1="366.36" x2="285.40" y2="366.36" stroke="#222" stroke-width="1.0" />
<line x1="280.40" y1="360.80" x2="285.40" y2="360.80" stroke="#222" stroke-width="1.0" />
<line x1="285.40" y1="472.00" x2="285.40" y2="474.50" stroke="#333" stroke-width="0.9" />
<line x1="302.13" y1="472.00" x2="302.13" y2="473.50" stroke="#333" stroke-width="0.9" />
<line x1="311.92" y1="472.00" x2="311.92" y2="473.50" stroke="#333" stroke-width="0.9" />
<line x1="318.86" y1="472.00" x2="318.86" y2="473.50" stroke="#333" stroke-width="0.9" />
<line x1="324.25" y1="472.00" x2="324.25" y2="473.50" stroke="#333" stroke-width="0.9" />
<line x1="328.65" y1="472.00" x2="328.65" y2="473.50" stroke="#333" stroke-width="0.9" />
<line x1="332.37" y1="472.00" x2="332.37" y2="473.50" stroke="#333" stroke-width="0.9" />
<line x1="335.59" y1="472.00" x2="335.59" y2="473.50" stroke="#333" stroke-width="0.9" />
<line x1="338.43" y1="472.00" x2="338.43" y2="473.50" stroke="#333" stroke-width="0.9" />
<line x1="340.97" y1="472.00" x2="340.97" y2="474.50" stroke="#333" stroke-width="0.9" />
<line x1="357.70" y1="472.00" x2="357.70" y2="473.50" stroke="#333" stroke-width="0.9" />
<line x1="367.49" y1="472.00" x2="367.49" y2="473.50" stroke="#333" stroke-width="0.9" />
<line x1="374.43" y1="472.00" x2="374.43" y2="473.50" stroke="#333" stroke-width="0.9" />
<line x1="379.82" y1="472.00" x2="379.82" y2="473.50" stroke="#333" stroke-width="0.9" />
<line x1="384.22" y1="472.00" x2="384.22" y2="473.50" stroke="#333" stroke-width="0.9" />
<line x1="387.94" y1="472.00" x2="387.94" y2="473.50" stroke="#333" stroke-width="0.9" />
<line x1="391.16" y1="472.00" x2="391.16" y2="473.50" stroke="#333" stroke-width="0.9" />
<line x1="394.01" y1="472.00" x2="394.01" y2="473.50" stroke="#333" stroke-width="0.9" />
<line x1="396.55" y1="472.00" x2="396.55" y2="474.50" stroke="#333" stroke-width="0.9" />
<line x1="413.28" y1="472.00" x2="413.28" y2="473.50" stroke="#333" stroke-width="0.9" />
<line x1="423.07" y1="472.00" x2="423.07" y2="473.50" stroke="#333" stroke-width="0.9" />
<line x1="430.01" y1="472.00" x2="430.01" y2="473.50" stroke="#333" stroke-width="0.9" />
<line x1="435.40" y1="472.00" x2="435.40" y2="473.50" stroke="#333" stroke-width="0.9" />
<line x1="439.80" y1="472.00" x2="439.80" y2="473.50" stroke="#333" stroke-width="0.9" />
<line x1="443.52" y1="472.00" x2="443.52" y2="473.50" stroke="#333" stroke-width="0.9" />
<line x1="446.74" y1="472.00" x2="446.74" y2="473.50" stroke="#333" stroke-width="0.9" />
<line x1="449.58" y1="472.00" x2="449.58" y2="473.50" stroke="#333" stroke-width="0.9" />
<line x1="452.12" y1="472.00" x2="452.12" y2="474.50" stroke="#333" stroke-width="0.9" />
<line x1="468.85" y1="472.00" x2="468.85" y2="473.50" stroke="#333" stroke-width="0.9" />
<line x1="478.64" y1="472.00" x2="478.64" y2="473.50" stroke="#333" stroke-width="0.9" />
<line x1="485.58" y1="472.00" x2="485.58" y2="473.50" stroke="#333" stroke-width="0.9" />
<line x1="490.97" y1="472.00" x2="490.97" y2="473.50" stroke="#333" stroke-width="0.9" />
<line x1="495.37" y1="472.00" x2="495.37" y2="473.50" stroke="#333" stroke-width="0.9" />
<line x1="499.09" y1="472.00" x2="499.09" y2="473.50" stroke="#333" stroke-width="0.9" />
<line x1="502.31" y1="472.00" x2="502.31" y2="473.50" stroke="#333" stroke-width="0.9" />
<line x1="505.16" y1="472.00" x2="505.16" y2="473.50" stroke="#333" stroke-width="0.9" />
<text transform="translate(279.90,484.5) scale(0.88,0.58)" font-size="10" font-weight="normal" fill="#111">10</text>
<text transform="translate(290.40,481.0) scale(1.25,0.92)" font-size="5.2" font-weight="normal" fill="#111">0</text>
<text transform="translate(335.47,484.5) scale(0.88,0.58)" font-size="10" font-weight="normal" fill="#111">10</text>
<text transform="translate(345.97,481.0) scale(1.25,0.92)" font-size="5.2" font-weight="normal" fill="#111">1</text>
<text transform="translate(391.05,484.5) scale(0.88,0.58)" font-size="10" font-weight="normal" fill="#111">10</text>
<text transform="translate(401.55,481.0) scale(1.25,0.92)" font-size="5.2" font-weight="normal" fill="#111">2</text>
<text transform="translate(446.62,484.5) scale(0.88,0.58)" font-size="10" font-weight="normal" fill="#111">10</text>
<text transform="translate(457.12,481.0) scale(1.25,0.92)" font-size="5.2" font-weight="normal" fill="#111">3</text>
<line x1="291.60" y1="487.20" x2="454.12" y2="487.20" stroke="#000" stroke-width="1.2" />
<text x="370.20" y="496.70" font-size="10.1" font-weight="bold" text-anchor="middle" fill="#000" >CD154</text>
<line x1="275.80" y1="378.20" x2="275.80" y2="471.50" stroke="#000" stroke-width="1.3" />
<text x="270.60" y="420.90" font-size="9.5" font-weight="bold" text-anchor="middle" fill="#000" transform="rotate(-90 270.6 420.9)" >Events (% of max)</text>
<line x1="406.00" y1="366.40" x2="421.50" y2="366.40" stroke="#000" stroke-width="3.4" />
<text x="429.60" y="369.60" font-size="7.9" font-weight="bold" text-anchor="start" fill="#000" >Teff + WT Treg</text>
<line x1="406.00" y1="376.77" x2="421.50" y2="376.77" stroke="#bcbcbc" stroke-width="3.4" />
<text x="429.60" y="379.03" font-size="7.9" font-weight="bold" text-anchor="start" fill="#000" >Teff + <tspan font-style="italic">Fanca</tspan><tspan font-size="4.6" dy="-3">-/-</tspan><tspan dy="3"> Treg</tspan></text>
<line x1="406.00" y1="387.14" x2="421.50" y2="387.14" stroke="#333" stroke-width="3.4" />
<text x="429.60" y="388.46" font-size="7.9" font-weight="bold" text-anchor="start" fill="#000" >Teff + <tspan font-style="italic">Fancd2</tspan><tspan font-size="4.6" dy="-3">-/-</tspan><tspan dy="3"> Treg</tspan></text>
<line x1="406.00" y1="397.51" x2="421.50" y2="397.51" stroke="#707070" stroke-width="3.4" />
<text x="429.60" y="397.89" font-size="7.9" font-weight="bold" text-anchor="start" fill="#000" >Teff</text>
<text x="65.90" y="522.40" font-size="12.2" font-weight="bold" text-anchor="start" fill="#000" >D</text>
<line x1="106.20" y1="514.40" x2="106.20" y2="645.30" stroke="#000" stroke-width="1.5" />
<line x1="105.40" y1="644.50" x2="301.60" y2="644.50" stroke="#000" stroke-width="1.5" />
<line x1="103.80" y1="644.50" x2="108.00" y2="644.50" stroke="#000" stroke-width="1.1" />
<text x="100.70" y="647.70" font-size="9.0" font-weight="bold" text-anchor="end" fill="#000" >0</text>
<line x1="103.80" y1="620.96" x2="108.00" y2="620.96" stroke="#000" stroke-width="1.1" />
<text x="100.70" y="624.16" font-size="9.0" font-weight="bold" text-anchor="end" fill="#000" >20</text>
<line x1="103.80" y1="597.42" x2="108.00" y2="597.42" stroke="#000" stroke-width="1.1" />
<text x="100.70" y="600.62" font-size="9.0" font-weight="bold" text-anchor="end" fill="#000" >40</text>
<line x1="103.80" y1="573.88" x2="108.00" y2="573.88" stroke="#000" stroke-width="1.1" />
<text x="100.70" y="577.08" font-size="9.0" font-weight="bold" text-anchor="end" fill="#000" >60</text>
<line x1="103.80" y1="550.34" x2="108.00" y2="550.34" stroke="#000" stroke-width="1.1" />
<text x="100.70" y="553.54" font-size="9.0" font-weight="bold" text-anchor="end" fill="#000" >80</text>
<line x1="103.80" y1="526.80" x2="108.00" y2="526.80" stroke="#000" stroke-width="1.1" />
<text x="100.70" y="530.00" font-size="9.0" font-weight="bold" text-anchor="end" fill="#000" >100</text>
<line x1="105.60" y1="642.30" x2="105.60" y2="647.10" stroke="#000" stroke-width="1.1" />
<text x="105.60" y="658.70" font-size="8.9" font-weight="bold" text-anchor="middle" fill="#000" >0</text>
<line x1="144.72" y1="642.30" x2="144.72" y2="647.10" stroke="#000" stroke-width="1.1" />
<text x="144.72" y="658.70" font-size="8.9" font-weight="bold" text-anchor="middle" fill="#000" >20</text>
<line x1="183.84" y1="642.30" x2="183.84" y2="647.10" stroke="#000" stroke-width="1.1" />
<text x="183.84" y="658.70" font-size="8.9" font-weight="bold" text-anchor="middle" fill="#000" >40</text>
<line x1="222.96" y1="642.30" x2="222.96" y2="647.10" stroke="#000" stroke-width="1.1" />
<text x="222.96" y="658.70" font-size="8.9" font-weight="bold" text-anchor="middle" fill="#000" >60</text>
<line x1="262.08" y1="642.30" x2="262.08" y2="647.10" stroke="#000" stroke-width="1.1" />
<text x="262.08" y="658.70" font-size="8.9" font-weight="bold" text-anchor="middle" fill="#000" >80</text>
<line x1="301.20" y1="642.30" x2="301.20" y2="647.10" stroke="#000" stroke-width="1.1" />
<text x="301.20" y="658.70" font-size="8.9" font-weight="bold" text-anchor="middle" fill="#000" >100</text>
<text x="78.20" y="578.90" font-size="12.5" font-weight="bold" text-anchor="middle" fill="#000" transform="rotate(-90 78.2 578.9)" >Survival (%)</text>
<text x="203.90" y="673.00" font-size="10.9" font-weight="bold" text-anchor="middle" fill="#000" >Days after BMT</text>
<path d="M134.94 543.83L137.47 548.20L132.41 548.20Z" fill="#f2f2f2" stroke="#333" stroke-width="0.95"/>
<path d="M142.76 563.37L145.29 567.74L140.23 567.74Z" fill="#f2f2f2" stroke="#333" stroke-width="0.95"/>
<path d="M146.68 583.03L149.21 587.40L144.15 587.40Z" fill="#f2f2f2" stroke="#333" stroke-width="0.95"/>
<path d="M154.50 602.68L157.03 607.05L151.97 607.05Z" fill="#f2f2f2" stroke="#333" stroke-width="0.95"/>
<path d="M162.32 622.22L164.85 626.59L159.79 626.59Z" fill="#f2f2f2" stroke="#333" stroke-width="0.95"/>
<path d="M195.58 641.88L198.11 646.25L193.05 646.25Z" fill="#f2f2f2" stroke="#333" stroke-width="0.95"/>
<rect x="172.15" y="536.27" width="4.60" height="4.60" fill="#f2f2f2" stroke="#333" stroke-width="0.95"/>
<rect x="179.00" y="548.04" width="4.60" height="4.60" fill="#f2f2f2" stroke="#333" stroke-width="0.95"/>
<rect x="181.15" y="559.81" width="4.60" height="4.60" fill="#f2f2f2" stroke="#333" stroke-width="0.95"/>
<rect x="194.45" y="571.58" width="4.60" height="4.60" fill="#f2f2f2" stroke="#333" stroke-width="0.95"/>
<rect x="196.60" y="583.35" width="4.60" height="4.60" fill="#f2f2f2" stroke="#333" stroke-width="0.95"/>
<rect x="201.30" y="595.12" width="4.60" height="4.60" fill="#f2f2f2" stroke="#333" stroke-width="0.95"/>
<rect x="213.42" y="606.89" width="4.60" height="4.60" fill="#f2f2f2" stroke="#333" stroke-width="0.95"/>
<rect x="298.90" y="606.89" width="4.60" height="4.60" fill="#f2f2f2" stroke="#333" stroke-width="0.95"/>
<circle cx="221.20" cy="538.57" r="2.30" fill="#f2f2f2" stroke="#333" stroke-width="0.95"/>
<circle cx="228.63" cy="550.34" r="2.30" fill="#f2f2f2" stroke="#333" stroke-width="0.95"/>
<circle cx="233.33" cy="562.11" r="2.30" fill="#f2f2f2" stroke="#333" stroke-width="0.95"/>
<circle cx="252.30" cy="573.88" r="2.30" fill="#f2f2f2" stroke="#333" stroke-width="0.95"/>
<circle cx="301.20" cy="573.88" r="2.30" fill="#f2f2f2" stroke="#333" stroke-width="0.95"/>
<path d="M105.60 526.80 H301.20" fill="none" stroke="#000" stroke-width="1.2"/>
<path d="M105.60 526.80 H134.94 V546.46 H142.76 V565.99 H146.68 V585.65 H154.50 V605.31 H162.32 V624.84 H195.58 V644.50 H301.20" fill="none" stroke="#000" stroke-width="1.2"/>
<path d="M105.60 526.80 H196.75 V538.57 H208.88 V550.34 H234.50 V562.11 H251.91 V573.88 H265.99 V585.65 H301.20" fill="none" stroke="#000" stroke-width="1.2"/>
<path d="M105.60 526.80 H174.45 V538.57 H181.30 V550.34 H183.45 V562.11 H196.75 V573.88 H198.90 V585.65 H203.60 V597.42 H215.72 V609.19 H301.20" fill="none" stroke="#000" stroke-width="1.2"/>
<path d="M105.60 526.80 H213.77 V539.86 H252.30 V552.93 H301.20" fill="none" stroke="#000" stroke-width="1.2"/>
<path d="M105.60 526.80 H221.20 V538.57 H228.63 V550.34 H233.33 V562.11 H252.30 V573.88 H301.20" fill="none" stroke="#000" stroke-width="1.2"/>
<path d="M301.20 524.18L303.73 528.55L298.67 528.55Z" fill="#000" stroke="#000" stroke-width="0.95"/>
<rect x="194.45" y="536.27" width="4.60" height="4.60" fill="#000" stroke="#000" stroke-width="0.95"/>
<rect x="206.58" y="548.04" width="4.60" height="4.60" fill="#000" stroke="#000" stroke-width="0.95"/>
<rect x="232.20" y="559.81" width="4.60" height="4.60" fill="#000" stroke="#000" stroke-width="0.95"/>
<rect x="249.61" y="571.58" width="4.60" height="4.60" fill="#000" stroke="#000" stroke-width="0.95"/>
<rect x="263.69" y="583.35" width="4.60" height="4.60" fill="#000" stroke="#000" stroke-width="0.95"/>
<rect x="298.90" y="583.35" width="4.60" height="4.60" fill="#000" stroke="#000" stroke-width="0.95"/>
<circle cx="213.77" cy="539.86" r="2.30" fill="#000" stroke="#000" stroke-width="0.95"/>
<circle cx="252.30" cy="552.93" r="2.30" fill="#000" stroke="#000" stroke-width="0.95"/>
<circle cx="301.20" cy="552.93" r="2.30" fill="#000" stroke="#000" stroke-width="0.95"/>
<path d="M230.30 600.10 L231.01 601.32 L232.39 601.62 L231.45 602.67 L231.59 604.08 L230.30 603.51 L229.01 604.08 L229.15 602.67 L228.21 601.62 L229.59 601.32Z" fill="#000"/>
<text x="238.70" y="604.70" font-size="10.6" font-weight="normal" text-anchor="start" fill="#000" >P = .0448</text>
<line x1="306.30" y1="523.00" x2="319.80" y2="523.00" stroke="#000" stroke-width="1.3" />
<path d="M313.10 520.04L315.96 524.98L310.24 524.98Z" fill="#000" stroke="#000" stroke-width="0.9"/>
<text x="327.70" y="526.20" font-size="9.2" font-weight="bold" text-anchor="start" fill="#000" >TCD</text>
<path d="M313.10 534.99L315.96 539.93L310.24 539.93Z" fill="#f2f2f2" stroke="#333" stroke-width="0.95"/>
<line x1="306.30" y1="537.95" x2="319.80" y2="537.95" stroke="#000" stroke-width="1.3" />
<text x="327.70" y="541.15" font-size="9.2" font-weight="bold" text-anchor="start" fill="#000" >TCD+Teff</text>
<line x1="306.30" y1="552.90" x2="319.80" y2="552.90" stroke="#000" stroke-width="1.3" />
<rect x="310.50" y="550.30" width="5.20" height="5.20" fill="#000" stroke="#000" stroke-width="0.9"/>
<text x="327.70" y="556.10" font-size="9.2" font-weight="bold" text-anchor="start" fill="#000" >TCD+Teff+<tspan font-style="italic">Fanca</tspan>+/+ Treg-Tam</text>
<rect x="310.50" y="565.25" width="5.20" height="5.20" fill="#f2f2f2" stroke="#333" stroke-width="0.95"/>
<line x1="306.30" y1="567.85" x2="319.80" y2="567.85" stroke="#000" stroke-width="1.3" />
<text x="327.70" y="571.05" font-size="9.2" font-weight="bold" text-anchor="start" fill="#000" >TCD+Teff+<tspan font-style="italic">Fanca</tspan>-/- Treg-Tam</text>
<line x1="306.30" y1="582.80" x2="319.80" y2="582.80" stroke="#000" stroke-width="1.3" />
<circle cx="313.10" cy="582.80" r="2.60" fill="#000" stroke="#000" stroke-width="0.9"/>
<text x="327.70" y="586.00" font-size="9.2" font-weight="bold" text-anchor="start" fill="#000" >TCD+Teff+<tspan font-style="italic">Fanca</tspan>+/+ Treg+Tam</text>
<circle cx="313.10" cy="597.75" r="2.60" fill="#f2f2f2" stroke="#333" stroke-width="0.95"/>
<line x1="306.30" y1="597.75" x2="319.80" y2="597.75" stroke="#000" stroke-width="1.3" />
<text x="327.70" y="600.95" font-size="9.2" font-weight="bold" text-anchor="start" fill="#000" >TCD+Teff+<tspan font-style="italic">Fanca</tspan>-/- Treg+Tam</text>
</svg></body></html>
